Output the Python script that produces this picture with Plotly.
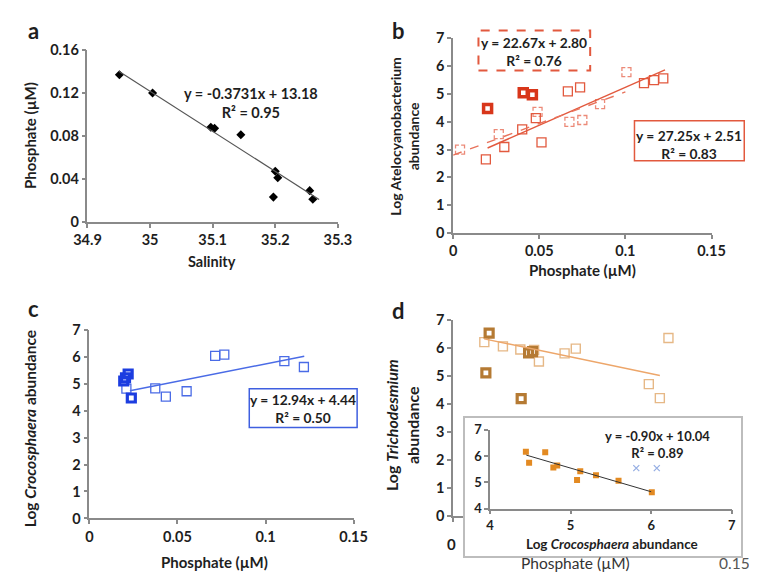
import plotly.graph_objects as go

W, H = 757, 576
def px(x): return x / W
def py(y): return 1 - y / H

# ---------------- data ----------------
# panel a
a_salinity = [34.951, 35.004, 35.097, 35.103, 35.145, 35.200, 35.204, 35.197, 35.255, 35.260]
a_phosphate = [0.137, 0.120, 0.088, 0.087, 0.081, 0.047, 0.041, 0.023, 0.029, 0.021]
a_fit_slope, a_fit_icpt = -0.3731, 13.18
a_fit_range = [34.95, 35.27]
a_xticks = [34.9, 35.0, 35.1, 35.2, 35.3]
a_xtick_text = ["34.9", "35", "35.1", "35.2", "35.3"]
a_yticks = [0, 0.04, 0.08, 0.12, 0.16]
a_ytick_text = ["0", "0.04", "0.08", "0.12", "0.16"]

# panel b (Atelocyanobacterium)
b_thin_x = [0.019, 0.0297, 0.0401, 0.048, 0.0513, 0.0666, 0.0737, 0.1108, 0.1166, 0.122]
b_thin_y = [2.65, 3.09, 3.72, 4.13, 3.26, 5.09, 5.23, 5.38, 5.49, 5.55]
b_bold_x = [0.020, 0.0407, 0.046]
b_bold_y = [4.47, 5.04, 4.97]
b_dash_x = [0.004, 0.0265, 0.049, 0.0675, 0.075, 0.0853, 0.1006]
b_dash_y = [3.0, 3.55, 4.35, 3.99, 4.06, 4.63, 5.78]
b_fit_slope, b_fit_icpt = 27.25, 2.51
b_fit_range = [0.02, 0.123]
b_dfit_slope, b_dfit_icpt = 22.67, 2.80
b_dfit_range = [0.0, 0.1]

phos_ticks = [0, 0.05, 0.1, 0.15]
phos_tick_text = ["0", "0.05", "0.1", "0.15"]
log_ticks = [0, 1, 2, 3, 4, 5, 6, 7]

# panel c (Crocosphaera)
c_thin_x = [0.021, 0.0374, 0.0434, 0.0552, 0.0714, 0.0766, 0.1107, 0.1218]
c_thin_y = [4.82, 4.83, 4.52, 4.72, 6.03, 6.08, 5.84, 5.62]
c_bold_x = [0.0195, 0.0205, 0.022, 0.0238]
c_bold_y = [5.10, 5.22, 5.36, 4.47]
c_fit_slope, c_fit_icpt = 12.94, 4.44
c_fit_range = [0.023, 0.122]

# panel d (Trichodesmium)
d_thin_x = [0.0181, 0.0289, 0.039, 0.047, 0.0498, 0.0647, 0.0712, 0.1136, 0.120, 0.125]
d_thin_y = [6.21, 6.06, 5.95, 5.93, 5.52, 5.81, 5.98, 4.71, 4.21, 6.36]
d_bold_x = [0.0209, 0.019, 0.0395, 0.0438, 0.0461]
d_bold_y = [6.53, 5.11, 4.19, 5.83, 5.87]
d_fit_slope, d_fit_icpt = -12.84, 6.56
d_fit_range = [0.018, 0.12]

# inset (Trichodesmium vs Crocosphaera)
in_x = [4.445, 4.485, 4.685, 4.786, 4.834, 5.08, 5.12, 5.315, 5.595, 6.008]
in_y = [6.16, 5.74, 6.14, 5.56, 5.64, 5.09, 5.42, 5.27, 5.06, 4.62]
in_out_x = [5.815, 6.07]
in_out_y = [5.54, 5.54]
in_fit_slope, in_fit_icpt = -0.90, 10.04
in_fit_range = [4.45, 6.0]
in_ticks = [4, 5, 6, 7]

# ---------------- helpers ----------------
def fit_line(slope, icpt, rng):
    return rng, [slope * v + icpt for v in rng]

FONT = "Lato"
AX_COL = "#8a8a8a"
TXT = "#1e1e1e"

fig = go.Figure()

def add(tr, ax):
    tr.update(xaxis="x" + ax, yaxis="y" + ax, showlegend=False, hoverinfo="skip")
    fig.add_trace(tr)

# panel a
add(go.Scatter(x=a_salinity, y=a_phosphate, mode="markers",
               marker=dict(symbol="diamond", size=7, color="black")), "")
lx, ly = fit_line(a_fit_slope, a_fit_icpt, a_fit_range)
add(go.Scatter(x=lx, y=ly, mode="lines", line=dict(color="#555555", width=1.2)), "")

# panel b
RED_T = "#e2593e"
RED_B = "#d8361a"
add(go.Scatter(x=b_dash_x, y=b_dash_y, mode="markers",
               marker=dict(symbol="square-open", size=9, color="#ec8a78",
                           line=dict(width=1.3))), "2")
add(go.Scatter(x=b_dash_x, y=b_dash_y, mode="markers",
               marker=dict(symbol="cross-thin-open", size=9, color="white",
                           line=dict(width=2.2, color="white"))), "2")
add(go.Scatter(x=b_thin_x, y=b_thin_y, mode="markers",
               marker=dict(symbol="square-open", size=9, color=RED_T,
                           line=dict(width=1.3))), "2")
add(go.Scatter(x=b_bold_x, y=b_bold_y, mode="markers",
               marker=dict(symbol="square-open", size=8, color=RED_B,
                           line=dict(width=3.5))), "2")
lx, ly = fit_line(b_fit_slope, b_fit_icpt, b_fit_range)
add(go.Scatter(x=lx, y=ly, mode="lines", line=dict(color=RED_T, width=1.4)), "2")
lx, ly = fit_line(b_dfit_slope, b_dfit_icpt, b_dfit_range)
add(go.Scatter(x=lx, y=ly, mode="lines",
               line=dict(color="#e8735c", width=1.4, dash="dash")), "2")

# panel c
BLU_T = "#4a6be6"
BLU_B = "#1c3de0"
add(go.Scatter(x=c_thin_x, y=c_thin_y, mode="markers",
               marker=dict(symbol="square-open", size=9, color=BLU_T,
                           line=dict(width=1.3))), "3")
add(go.Scatter(x=c_bold_x, y=c_bold_y, mode="markers",
               marker=dict(symbol="square-open", size=8, color=BLU_B,
                           line=dict(width=3.2))), "3")
lx, ly = fit_line(c_fit_slope, c_fit_icpt, c_fit_range)
add(go.Scatter(x=lx, y=ly, mode="lines", line=dict(color=BLU_T, width=1.4)), "3")

# panel d
add(go.Scatter(x=d_thin_x, y=d_thin_y, mode="markers",
               marker=dict(symbol="square-open", size=9, color="#e6b886",
                           line=dict(width=1.4))), "4")
add(go.Scatter(x=d_bold_x, y=d_bold_y, mode="markers",
               marker=dict(symbol="square-open", size=8, color="#b57a33",
                           line=dict(width=3.2))), "4")
lx, ly = fit_line(d_fit_slope, d_fit_icpt, d_fit_range)
add(go.Scatter(x=lx, y=ly, mode="lines", line=dict(color="#eda66a", width=1.4)), "4")

# inset frame (empty subplot used as an opaque box)
add(go.Scatter(x=[None], y=[None], mode="markers"), "5")

# inset
add(go.Scatter(x=in_x, y=in_y, mode="markers",
               marker=dict(symbol="square", size=6, color="#e38a22")), "6")
add(go.Scatter(x=in_out_x, y=in_out_y, mode="markers",
               marker=dict(symbol="x-thin-open", size=6, color="#98b0e4",
                           line=dict(width=1.3))), "6")
lx, ly = fit_line(in_fit_slope, in_fit_icpt, in_fit_range)
add(go.Scatter(x=lx, y=ly, mode="lines", line=dict(color="#333333", width=1)), "6")

# ---------------- axes ----------------
tickfont = dict(family=FONT, size=14.5, color=TXT, weight="bold")
base = dict(showgrid=False, zeroline=False, showline=True, linecolor=AX_COL,
            linewidth=1.5, ticks="outside", ticklen=4, tickcolor=AX_COL,
            tickwidth=1.5, tickfont=tickfont)

lay = dict(
    width=W, height=H, margin=dict(l=0, r=0, t=0, b=0),
    paper_bgcolor="white", plot_bgcolor="white",
    xaxis=dict(base, domain=[px(68), px(328)], range=[34.9, 35.3],
               tickvals=a_xticks, ticktext=a_xtick_text, anchor="y"),
    yaxis=dict(base, domain=[py(211), py(34)], range=[0, 0.16],
               tickvals=a_yticks, ticktext=a_ytick_text, anchor="x"),
    xaxis2=dict(base, domain=[px(447.7), px(716)], range=[0, 0.15],
                tickvals=phos_ticks, ticktext=phos_tick_text, anchor="y2"),
    yaxis2=dict(base, domain=[py(222.7), py(21.7)], range=[0, 7],
                tickvals=log_ticks, anchor="x2"),
    xaxis3=dict(base, domain=[px(70), px(344.3)], range=[0, 0.15],
                tickvals=phos_ticks, ticktext=phos_tick_text, anchor="y3"),
    yaxis3=dict(base, domain=[py(516.7), py(322.3)], range=[0, 7],
                tickvals=log_ticks, anchor="x3"),
    xaxis4=dict(base, domain=[px(447.7), px(716)], range=[0, 0.15],
                tickvals=phos_ticks, showticklabels=False, anchor="y4"),
    yaxis4=dict(base, domain=[py(514), py(312.3)], range=[0, 7],
                tickvals=log_ticks, anchor="x4"),
    xaxis5=dict(domain=[px(460), px(747)], range=[0, 1], showgrid=False,
                zeroline=False, showline=True, mirror=True, linecolor="#bdbdbd",
                linewidth=1.5, showticklabels=False, ticks="", anchor="y5"),
    yaxis5=dict(domain=[py(555), py(413)], range=[0, 1], showgrid=False,
                zeroline=False, showline=True, mirror=True, linecolor="#bdbdbd",
                linewidth=1.5, showticklabels=False, ticks="", anchor="x5"),
    xaxis6=dict(base, domain=[px(486), px(737)], range=[4, 7], tickvals=in_ticks,
                tickfont=dict(family=FONT, size=13, color=TXT, weight="bold"),
                anchor="y6"),
    yaxis6=dict(base, domain=[py(506.5), py(425.3)], range=[4, 7], tickvals=in_ticks,
                tickfont=dict(family=FONT, size=13, color=TXT, weight="bold"),
                anchor="x6"),
)
fig.update_layout(**lay)

# ---------------- text ----------------
def note(x, y, text, size=13.5, angle=0, bold=True, color=TXT, xanchor="center"):
    fig.add_annotation(x=px(x), y=py(y), xref="paper", yref="paper", text=text,
                       showarrow=False, textangle=angle, xanchor=xanchor,
                       yanchor="middle", align="center",
                       font=dict(family=FONT, size=size, color=color,
                                 weight="bold" if bold else "normal"))

# panel letters
note(12, 14, "a", size=22)
note(391, 14, "b", size=22)
note(12, 300, "c", size=22)
note(391, 302, "d", size=22)

# axis titles
note(9, 122, "Phosphate (µM)", angle=-90, size=15)
note(197, 252, "Salinity", size=14.5)
note(397, 123, "Log Atelocyanobacterium<br>abundance", angle=-90, size=14)
note(582, 261, "Phosphate (µM)", size=15)
note(9, 424, "Log <i>Crocosphaera</i> abundance", angle=-90, size=15.5)
note(200, 562, "Phosphate (µM)", size=15)
note(394, 420, "Log <i>Trichodesmium</i><br>abundance", angle=-90, size=16)
note(446, 543, "0", size=15)
note(575, 563, "Phosphate (µM)", size=15.5, bold=False, color="#333333")
note(740, 563, "0.15", size=15.5, bold=False, color="#555555")
note(613, 543, "Log <i>Crocosphaera</i> abundance", size=13.5)

# regression labels
note(238, 89, "y = -0.3731x + 13.18<br>R² = 0.95", size=14.5)

fig.add_shape(type="rect", xref="paper", yref="paper",
              x0=px(474), x1=px(590), y0=py(55), y1=py(14),
              line=dict(color="#e2593e", width=2, dash="dash"), fillcolor="white")
note(532, 36, "y = 22.67x + 2.80<br>R² = 0.76", size=13.8)

fig.add_shape(type="rect", xref="paper", yref="paper",
              x0=px(636), x1=px(750), y0=py(148), y1=py(107),
              line=dict(color="#e2593e", width=1.5), fillcolor="white")
note(693, 131, "y = 27.25x + 2.51<br>R² = 0.83", size=13.8)

fig.add_shape(type="rect", xref="paper", yref="paper",
              x0=px(236), x1=px(348), y0=py(423), y1=py(383),
              line=dict(color="#3f5fe0", width=1.5), fillcolor="white")
note(292, 403, "y = 12.94x + 4.44<br>R² = 0.50", size=13.8)

note(660, 440, "y = -0.90x + 10.04<br>R² = 0.89", size=13)

fig.write_html("out.html")
